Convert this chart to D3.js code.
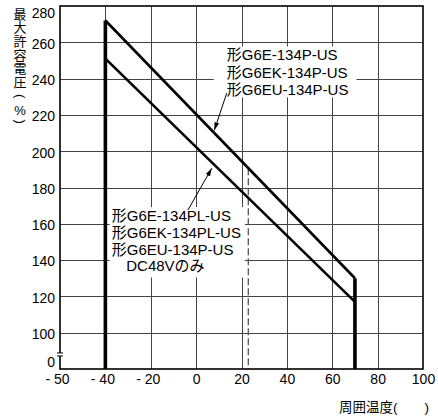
<!DOCTYPE html>
<html>
<head>
<meta charset="utf-8">
<script src="https://cdn.jsdelivr.net/npm/d3@7"></script>
<style>
  body { margin: 0; background: #fff; }
  svg { display: block; font-family: "Liberation Sans", Arial, "Noto Sans CJK JP", sans-serif; }
</style>
</head>
<body>
<svg id="chart"></svg>
<script>
// x axis is broken: the "- 50" tick sits one 20-degree step left of -40
const xTickValues = [-60, -40, -20, 0, 20, 40, 60, 80, 100];
const xTickLabels = ["- 50", "- 40", "- 20", "0", "20", "40", "60", "80", "100"];
// y axis is broken too: the "0" tick sits one 20% step below 100
const yTickValues = [80, 100, 120, 140, 160, 180, 200, 220, 240, 260, 280];
const yTickLabels = ["0", "100", "120", "140", "160", "180", "200", "220", "240", "260", "280"];

const temps = [-40, 70];
const upperVolts = [272, 130]; // 形G6E-134P-US etc.
const lowerVolts = [251, 117]; // 形G6E-134PL-US etc.
const dashedTemp = 23;

const note1 = ["形G6E-134P-US", "形G6EK-134P-US", "形G6EU-134P-US"];
const note2 = ["形G6E-134PL-US", "形G6EK-134PL-US", "形G6EU-134P-US", "DC48Vのみ"];
const yTitle = ["最", "大", "許", "容", "電", "圧", "(", "%", ")"];
const xTitle = "周囲温度(　　)";

const width = 438;
const height = 419;
const margin = { top: 6, right: 15, bottom: 50, left: 60 };
const innerW = width - margin.left - margin.right;
const innerH = height - margin.top - margin.bottom;

const svg = d3.select("#chart").attr("width", width).attr("height", height);
const g = svg
  .append("g")
  .attr("transform", `translate(${margin.left}, ${margin.top})`);

const x = d3.scaleLinear().domain([-60, 100]).range([0, innerW]);
const y = d3.scaleLinear().domain([80, 280]).range([innerH, 0]);

// arrow head
svg
  .append("defs")
  .append("marker")
  .attr("id", "arrow")
  .attr("viewBox", "0 0 10 10")
  .attr("refX", 10)
  .attr("refY", 5)
  .attr("markerWidth", 8)
  .attr("markerHeight", 8)
  .attr("markerUnits", "userSpaceOnUse")
  .attr("orient", "auto")
  .append("path")
  .attr("d", "M0,2 L10,5 L0,8 Z")
  .attr("fill", "#000");

// grid
g.append("g")
  .selectAll("line")
  .data(xTickValues.slice(1, -1))
  .join("line")
  .attr("x1", (d) => Math.round(x(d)) + 0.5)
  .attr("x2", (d) => Math.round(x(d)) + 0.5)
  .attr("y1", 0)
  .attr("y2", innerH)
  .attr("stroke", "#444");

g.append("g")
  .selectAll("line")
  .data(yTickValues.slice(1, -1))
  .join("line")
  .attr("x1", 0)
  .attr("x2", innerW)
  .attr("y1", (d) => Math.round(y(d)) + 0.5)
  .attr("y2", (d) => Math.round(y(d)) + 0.5)
  .attr("stroke", "#444");

// axes (labels only)
const xaxis = d3
  .axisBottom(x)
  .tickValues(xTickValues)
  .tickFormat((d, i) => xTickLabels[i])
  .tickSize(0)
  .tickPadding(5);
const xg = g
  .append("g")
  .attr("transform", `translate(0, ${innerH})`)
  .call(xaxis);
xg.select(".domain").remove();
xg.selectAll("text")
  .attr("font-size", 14)
  .attr("font-family", null)
  .attr("fill", "#000")
  .attr("dx", (d) => (d < 0 ? -3 : 0));

const yaxis = d3
  .axisLeft(y)
  .tickValues(yTickValues)
  .tickFormat((d, i) => yTickLabels[i])
  .tickSize(0)
  .tickPadding(5);
const yg = g.append("g").call(yaxis);
yg.select(".domain").remove();
yg.selectAll("text")
  .attr("font-size", 14)
  .attr("font-family", null)
  .attr("fill", "#000")
  .attr("dy", (d, i) =>
    i === yTickValues.length - 1 ? "0.85em" : i === 0 ? "-0.16em" : "0.42em",
  );

// annotation boxes and text
function drawNote(lines, tx, ty, lineH, pad) {
  const ng = g.append("g");
  const box = ng.append("rect").attr("fill", "#fff");
  const text = ng.append("text").attr("font-size", 15).attr("fill", "#000");
  lines.forEach((s, i) => {
    text
      .append("tspan")
      .attr("x", x(tx) + (s.startsWith("形") ? 0 : 14.5))
      .attr("y", y(ty) + i * lineH)
      .text(s);
  });
  const b = text.node().getBBox();
  box
    .attr("x", b.x - pad.left)
    .attr("width", b.width + pad.left + pad.right)
    .attr("y", y(ty) - 14)
    .attr("height", (lines.length - 1) * lineH + 14 + pad.bottom);
  return ng;
}

drawNote(note1, 13.5, 250, 17.5, { left: 13, right: 8, bottom: 2 });
drawNote(note2, -37.2, 161.5, 16.8, { left: 2, right: 4, bottom: 6 });

// dashed line at the rated temperature
const upperAt = d3.scaleLinear().domain(temps).range(upperVolts);
g.append("line")
  .attr("x1", x(dashedTemp))
  .attr("x2", x(dashedTemp))
  .attr("y1", y(upperAt(dashedTemp)))
  .attr("y2", innerH)
  .attr("stroke", "#555")
  .attr("stroke-width", 1.3)
  .attr("stroke-dasharray", "7,3");

// frame
g.append("rect")
  .attr("width", innerW)
  .attr("height", innerH)
  .attr("fill", "none")
  .attr("stroke", "#000")
  .attr("stroke-width", 1.6);

// y axis break mark
const by = y(88);
g.append("rect")
  .attr("x", -2)
  .attr("y", by - 1.5)
  .attr("width", 4)
  .attr("height", 3)
  .attr("fill", "#fff");
g.selectAll(".brk")
  .data([-1.5, 1.5])
  .join("line")
  .attr("class", "brk")
  .attr("x1", -3)
  .attr("x2", 3)
  .attr("y1", (d) => by + d)
  .attr("y2", (d) => by + d)
  .attr("stroke", "#000")
  .attr("stroke-width", 1);

// curves
const bottomV = y.domain()[0];
const upperPts = [[temps[0], bottomV]]
  .concat(temps.map((t, i) => [t, upperVolts[i]]))
  .concat([[temps[1], bottomV]]);
const lowerPts = temps.map((t, i) => [t, lowerVolts[i]]);
const line = d3
  .line()
  .x((d) => x(d[0]))
  .y((d) => y(d[1]));

// thick verticals
g.selectAll(".vert")
  .data([
    [upperPts[0], upperPts[1]],
    [upperPts[2], upperPts[3]],
  ])
  .join("path")
  .attr("class", "vert")
  .attr("d", line)
  .attr("fill", "none")
  .attr("stroke", "#000")
  .attr("stroke-width", 3.6);

g.selectAll(".diag")
  .data([upperPts.slice(1, 3), lowerPts])
  .join("path")
  .attr("class", "diag")
  .attr("d", line)
  .attr("fill", "none")
  .attr("stroke", "#000")
  .attr("stroke-width", 2.6)
  .attr("stroke-linejoin", "miter");

// arrows
const arrows = [
  [[13.5, 232], [8, 211.5]],
  [[-3.6, 167.6], [6.9, 190.6]],
];
g.selectAll(".arrow")
  .data(arrows)
  .join("line")
  .attr("class", "arrow")
  .attr("x1", (d) => x(d[0][0]))
  .attr("y1", (d) => y(d[0][1]))
  .attr("x2", (d) => x(d[1][0]))
  .attr("y2", (d) => y(d[1][1]))
  .attr("stroke", "#000")
  .attr("stroke-width", 1)
  .attr("marker-end", "url(#arrow)");

// y title, written vertically
let cy = 14;
yTitle.forEach((c) => {
  const t = svg
    .append("text")
    .attr("x", 20)
    .attr("y", cy)
    .attr("font-size", 13)
    .attr("text-anchor", "middle")
    .attr("dominant-baseline", "central")
    .text(c);
  if (c === "(" || c === ")") t.attr("transform", `rotate(90, 20, ${cy})`);
  cy += c === "(" ? 14.5 : c === "%" ? 11 : 13.7;
});

// x title
svg
  .append("text")
  .attr("x", 429)
  .attr("y", 412)
  .attr("font-size", 13.5)
  .attr("text-anchor", "end")
  .text(xTitle);
</script>
</body>
</html>
